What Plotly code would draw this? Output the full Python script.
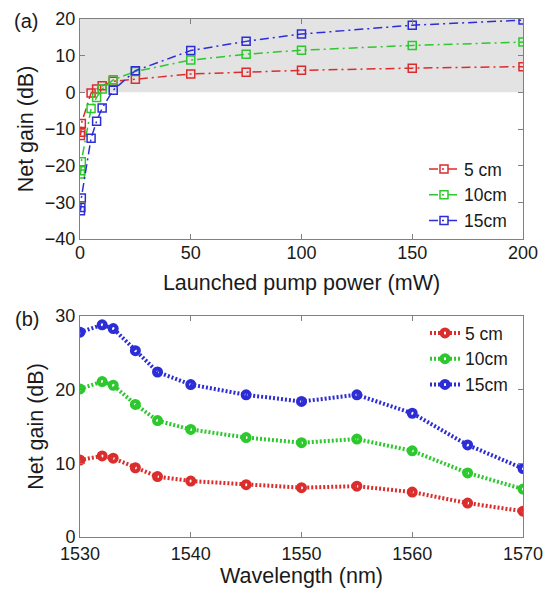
import plotly.graph_objects as go

# ---------------- data ----------------
pump_power = [0.2, 0.4, 0.6, 5, 7.5, 10, 15, 25, 50, 75, 100, 150, 200]
gain_5cm = [-11.8, -10.9, -8.5, -0.2, 0.9, 1.8, 3.0, 3.6, 5.0, 5.5, 6.0, 6.6, 7.0]
gain_10cm = [-22.3, -21.4, -18.9, -4.4, -1.4, 0.9, 3.4, 5.7, 8.8, 10.4, 11.5, 12.8, 13.7]
gain_15cm = [-32.3, -31.4, -28.8, -12.5, -7.9, -4.3, 0.6, 5.9, 11.4, 13.9, 15.9, 18.3, 19.7]

wavelength = [1530, 1532, 1533, 1535, 1537, 1540, 1545, 1550, 1555, 1560, 1565, 1570]
wl_5cm = [10.45, 11.0, 10.7, 9.4, 8.2, 7.6, 7.1, 6.7, 6.9, 6.1, 4.6, 3.5]
wl_10cm = [20.1, 21.1, 20.6, 18.0, 15.8, 14.6, 13.5, 12.8, 13.3, 11.7, 8.7, 6.5]
wl_15cm = [27.8, 28.8, 28.3, 25.3, 22.4, 20.7, 19.3, 18.4, 19.3, 16.8, 12.5, 9.3]

series_names = ["5 cm", "10cm", "15cm"]
colors = ["rgb(220,45,45)", "rgb(45,200,45)", "rgb(45,45,215)"]

FONT = "Liberation Sans"
TXT = "#1a1a1a"

fig = go.Figure()

for name, ys, c in zip(series_names, [gain_5cm, gain_10cm, gain_15cm], colors):
    fig.add_trace(go.Scatter(
        x=pump_power, y=ys, name=name, mode="lines+markers",
        line=dict(color=c, width=1.5, dash="9px,4px,2px,4px"),
        marker=dict(symbol="square-open", size=8, color=c, line=dict(width=1.5, color=c)),
        xaxis="x", yaxis="y", legend="legend",
    ))

for name, ys, c in zip(series_names, [wl_5cm, wl_10cm, wl_15cm], colors):
    fig.add_trace(go.Scatter(
        x=wavelength, y=ys, name=name, mode="lines+markers",
        line=dict(color=c, width=4, dash="2px,2px"),
        marker=dict(symbol="circle-open", size=7, color=c, line=dict(width=4, color=c)),
        xaxis="x2", yaxis="y2", legend="legend2",
    ))

axis_common = dict(
    showline=True, linecolor="#808080", linewidth=1, mirror="ticks",
    ticks="inside", ticklen=5, tickcolor="#808080",
    showgrid=False, zeroline=False,
    tickfont=dict(family=FONT, size=18, color=TXT),
)


def ttl(text, standoff):
    return dict(text=text, standoff=standoff, font=dict(family=FONT, size=21.5, color=TXT))


W, H = 552, 591
l, r, t, b = 80, 29, 19, 54
pw, ph = W - l - r, H - t - b


def px2paper(px, py):
    return (px - l) / pw, 1 - (py - t) / ph


leg_a_x, leg_a_y = px2paper(512, 195)
leg_b_x, leg_b_y = px2paper(513, 359)

fig.update_layout(
    width=W, height=H,
    margin=dict(l=l, r=r, t=t, b=b, autoexpand=False),
    plot_bgcolor="white", paper_bgcolor="white",
    font=dict(family=FONT, size=18, color=TXT),
    xaxis=dict(domain=[0, 1], anchor="y", range=[0, 200], tickvals=[0, 50, 100, 150, 200],
               ticklabelstandoff=-3,
               title=ttl("Launched pump power (mW)", 13), **axis_common),
    yaxis=dict(domain=[0.5753, 1], anchor="x", range=[-40, 20], tickvals=[-40, -30, -20, -10, 0, 10, 20],
               title=ttl("Net gain (dB)", 5), **axis_common),
    xaxis2=dict(domain=[0, 1], anchor="y2", range=[1530, 1570], tickvals=[1530, 1540, 1550, 1560, 1570],
                title=ttl("Wavelength (nm)", 0), **axis_common),
    yaxis2=dict(domain=[0, 0.4266], anchor="x2", range=[0, 30], tickvals=[0, 10, 20, 30],
                title=ttl("Net gain (dB)", 5), **axis_common),
    legend=dict(x=leg_a_x, y=leg_a_y, xanchor="right", yanchor="middle", xref="paper", yref="paper",
                bgcolor="rgba(0,0,0,0)", font=dict(family=FONT, size=17.5, color=TXT),
                tracegroupgap=0, itemwidth=30),
    legend2=dict(x=leg_b_x, y=leg_b_y, xanchor="right", yanchor="middle", xref="paper", yref="paper",
                 bgcolor="rgba(0,0,0,0)", font=dict(family=FONT, size=17.5, color=TXT),
                 tracegroupgap=0, itemwidth=30),
    showlegend=True,
)

# shaded positive-gain region in panel (a)
fig.add_shape(type="rect", xref="x domain", yref="y", x0=0, x1=1, y0=0, y1=20,
              fillcolor="#e3e3e3", line=dict(width=0), layer="below")

ax_, ay_ = px2paper(26, 21)
bx_, by_ = px2paper(27, 319)
fig.add_annotation(text="(a)", x=ax_, y=ay_, xref="paper", yref="paper", showarrow=False,
                   xanchor="center", yanchor="middle", font=dict(family=FONT, size=20, color=TXT))
fig.add_annotation(text="(b)", x=bx_, y=by_, xref="paper", yref="paper", showarrow=False,
                   xanchor="center", yanchor="middle", font=dict(family=FONT, size=20, color=TXT))

fig.write_html("out.html")
